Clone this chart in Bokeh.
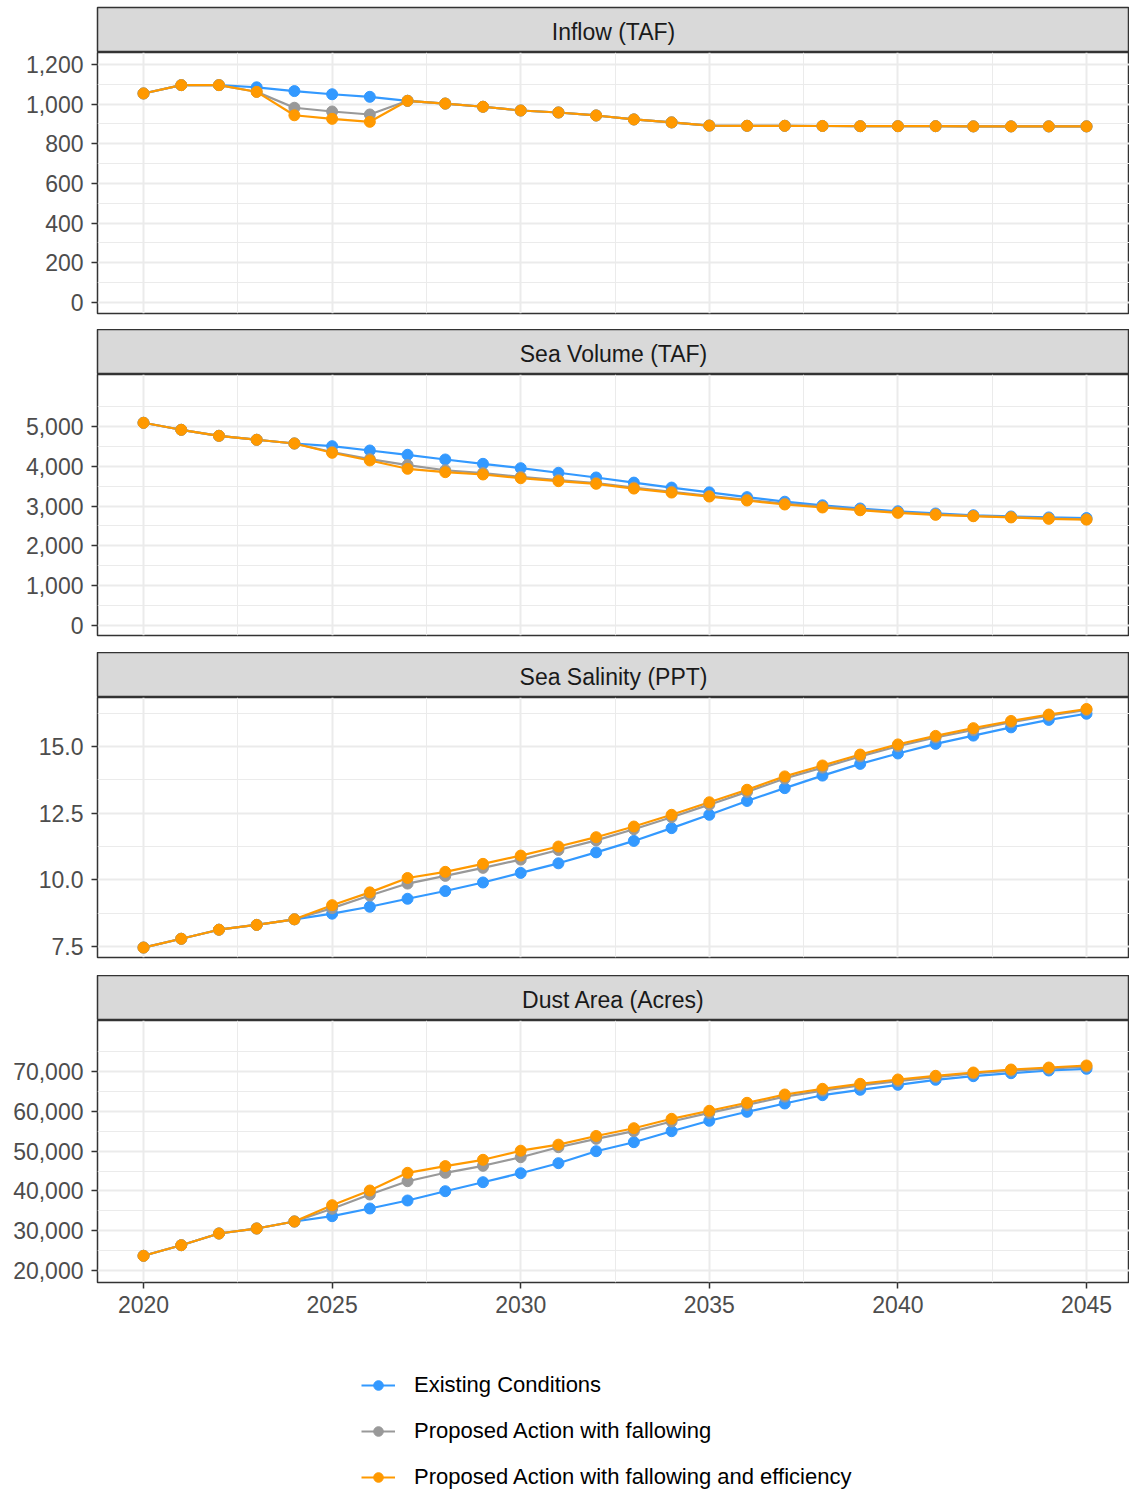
from bokeh.plotting import figure
from bokeh.layouts import column
from bokeh.models import Range1d, FixedTicker, NumeralTickFormatter, Label, Legend, LegendItem
from bokeh.embed import file_html
from bokeh.resources import INLINE

# ---------------- data ----------------
years = list(range(2020, 2046))

series_names = ["Existing Conditions",
                "Proposed Action with fallowing",
                "Proposed Action with fallowing and efficiency"]
series_colors = ["#3399FF", "#999999", "#FF9900"]

inflow_existing = [1054, 1096, 1096, 1085, 1066, 1050, 1037, 1017, 1003, 987, 968, 958, 943,
                   923, 908, 892, 891, 891, 890, 889, 889, 889, 888, 888, 888, 888]
inflow_fallow = [1054, 1096, 1096, 1062, 982, 963, 948, 1017, 1003, 987, 968, 958, 943,
                 923, 908, 892, 891, 891, 890, 889, 889, 889, 888, 888, 888, 888]
inflow_eff = [1054, 1096, 1096, 1062, 944, 926, 911, 1017, 1003, 987, 968, 958, 943,
              923, 908, 892, 891, 891, 890, 889, 889, 889, 888, 888, 888, 888]

volume_existing = [5093, 4917, 4766, 4666, 4573, 4505, 4397, 4289, 4171, 4062, 3952, 3837, 3719,
                   3590, 3465, 3345, 3225, 3110, 3020, 2940, 2870, 2815, 2770, 2740, 2715, 2700]
volume_fallow = [5093, 4917, 4766, 4666, 4573, 4360, 4180, 4030, 3900, 3830, 3735, 3655, 3580,
                 3465, 3360, 3255, 3160, 3060, 2985, 2910, 2845, 2795, 2755, 2725, 2695, 2670]
volume_eff = [5093, 4917, 4766, 4666, 4573, 4339, 4146, 3937, 3852, 3794, 3701, 3626, 3560,
              3440, 3340, 3240, 3140, 3040, 2965, 2895, 2830, 2780, 2745, 2715, 2680, 2660]

salinity_existing = [7.46, 7.79, 8.13, 8.31, 8.52, 8.73, 8.99, 9.29, 9.58, 9.90, 10.26, 10.62, 11.03,
                     11.46, 11.94, 12.44, 12.96, 13.44, 13.91, 14.35, 14.74, 15.10, 15.41, 15.72, 16.00, 16.23]
salinity_fallow = [7.46, 7.79, 8.13, 8.31, 8.52, 8.94, 9.41, 9.86, 10.15, 10.45, 10.76, 11.12, 11.48,
                   11.90, 12.35, 12.82, 13.30, 13.80, 14.21, 14.63, 15.01, 15.34, 15.62, 15.91, 16.16, 16.37]
salinity_eff = [7.46, 7.79, 8.13, 8.31, 8.52, 9.05, 9.53, 10.07, 10.30, 10.60, 10.91, 11.25, 11.60,
                12.00, 12.44, 12.91, 13.38, 13.88, 14.29, 14.70, 15.08, 15.40, 15.69, 15.96, 16.20, 16.41]

dust_existing = [23693, 26357, 29296, 30553, 32312, 33643, 35578, 37588, 39925, 42186, 44450, 46960, 49975,
                 52236, 55000, 57612, 59874, 61960, 64045, 65402, 66658, 67915, 68820, 69572, 70250, 70678]
dust_fallow = [23693, 26357, 29296, 30553, 32312, 35500, 39095, 42437, 44548, 46307, 48467, 50980, 53090,
               55000, 57437, 59600, 61600, 63700, 65200, 66500, 67600, 68600, 69500, 70200, 70700, 71200]
dust_eff = [23693, 26357, 29296, 30553, 32312, 36407, 40100, 44548, 46231, 47814, 50100, 51620, 53800,
            55753, 58115, 60126, 62136, 64221, 65653, 66910, 67990, 68920, 69748, 70500, 71000, 71507]

panel_titles = ["Inflow (TAF)", "Sea Volume (TAF)", "Sea Salinity (PPT)", "Dust Area (Acres)"]

x_major = [2020, 2025, 2030, 2035, 2040, 2045]
x_minor = [2022.5, 2027.5, 2032.5, 2037.5, 2042.5]

y_major = [[0, 200, 400, 600, 800, 1000, 1200],
           [0, 1000, 2000, 3000, 4000, 5000],
           [7.5, 10.0, 12.5, 15.0],
           [20000, 30000, 40000, 50000, 60000, 70000]]
y_minor = [[100, 300, 500, 700, 900, 1100],
           [500, 1500, 2500, 3500, 4500, 5500],
           [8.75, 11.25, 13.75, 16.25],
           [25000, 35000, 45000, 55000, 65000, 75000]]
y_formats = ["0,0", "0,0", "0.0", "0,0"]

panel_data = [[inflow_existing, inflow_fallow, inflow_eff],
              [volume_existing, volume_fallow, volume_eff],
              [salinity_existing, salinity_fallow, salinity_eff],
              [dust_existing, dust_fallow, dust_eff]]

# ---------------- layout / style ----------------
FONT = "Liberation Sans"
FW = 1032
LEFT = 97
x_limits = (2018.78, 2046.14)
y_ranges = [(-55.5, 1260.5), (-251, 6306), (7.087, 16.84), (16985, 82814)]
frame_heights = [261, 261, 260, 262]
gaps = [16, 17, 18, 40]
strip_tops = [7, 0, 0, 0]


def make_strip(title, top):
    s = figure(frame_width=FW, frame_height=45, min_border_left=LEFT, min_border_right=0,
               min_border_top=top, min_border_bottom=0, x_range=Range1d(0, 1), y_range=Range1d(0, 1),
               toolbar_location=None, output_backend="svg", x_axis_location=None, y_axis_location=None)
    s.grid.visible = False
    s.background_fill_color = "#D9D9D9"
    s.outline_line_color = "#333333"
    s.outline_line_width = 1.5
    s.add_layout(Label(x=0.5, y=0.45, text=title, text_align="center", text_baseline="middle",
                       text_font=FONT, text_font_size="23px", text_color="#1A1A1A"))
    return s


def style_axis(ax, standoff):
    ax.axis_line_color = None
    ax.major_tick_line_color = "#333333"
    ax.major_tick_line_width = 1.5
    ax.major_tick_out = 6
    ax.major_tick_in = 0
    ax.minor_tick_line_color = None
    ax.major_label_text_font = FONT
    ax.major_label_text_font_size = "23px"
    ax.major_label_text_color = "#4D4D4D"
    ax.major_label_standoff = standoff


children = []
for i in range(4):
    last = (i == 3)
    children.append(make_strip(panel_titles[i], strip_tops[i]))
    p = figure(frame_width=FW, frame_height=frame_heights[i], min_border_left=LEFT, min_border_right=0,
               min_border_top=0, min_border_bottom=gaps[i],
               x_range=Range1d(*x_limits), y_range=Range1d(*y_ranges[i]),
               toolbar_location=None, output_backend="svg",
               x_axis_location="below" if last else None)
    xt = FixedTicker(ticks=x_major, minor_ticks=x_minor)
    yt = FixedTicker(ticks=y_major[i], minor_ticks=y_minor[i])
    p.xgrid.ticker = xt
    p.ygrid.ticker = yt
    for g in (p.xgrid, p.ygrid):
        g.grid_line_color = "#EBEBEB"
        g.grid_line_width = 2
        g.minor_grid_line_color = "#EBEBEB"
        g.minor_grid_line_width = 1
    p.yaxis.ticker = yt
    p.yaxis.formatter = NumeralTickFormatter(format=y_formats[i])
    style_axis(p.yaxis[0], 8)
    if last:
        p.xaxis.ticker = xt
        style_axis(p.xaxis[0], 7)
    p.outline_line_color = "#333333"
    p.outline_line_width = 1.5
    p.background_fill_color = "white"
    for vals, col in zip(panel_data[i], series_colors):
        p.line(years, vals, line_color=col, line_width=2.2)
    for vals, col in zip(panel_data[i], series_colors):
        p.scatter(years, vals, size=11, fill_color=col, line_color=col)
    children.append(p)

# legend figure (its renderers lie outside the visible range; only the legend is seen)
lg = figure(frame_width=1130, frame_height=170, min_border_left=0, min_border_right=0,
            min_border_top=0, min_border_bottom=0, x_range=Range1d(0, 1), y_range=Range1d(0, 1),
            toolbar_location=None, output_backend="svg", x_axis_location=None, y_axis_location=None)
lg.grid.visible = False
lg.outline_line_color = None
items = []
for name, col, vals in zip(series_names, series_colors, panel_data[0]):
    r1 = lg.line(years, vals, line_color=col, line_width=2.2)
    r2 = lg.scatter(years, vals, size=11, fill_color=col, line_color=col)
    items.append(LegendItem(label=name, renderers=[r1, r2]))
legend = Legend(items=items, location=(361, 2), orientation="vertical",
                glyph_width=34, glyph_height=24, label_height=24, label_standoff=19,
                spacing=20, padding=0, margin=0,
                label_text_font=FONT, label_text_font_size="22px", label_text_color="#000000",
                border_line_color=None, background_fill_alpha=0)
lg.add_layout(legend)
children.append(lg)

layout = column(children, spacing=0)
open("out.html", "w").write(file_html(layout, INLINE))
